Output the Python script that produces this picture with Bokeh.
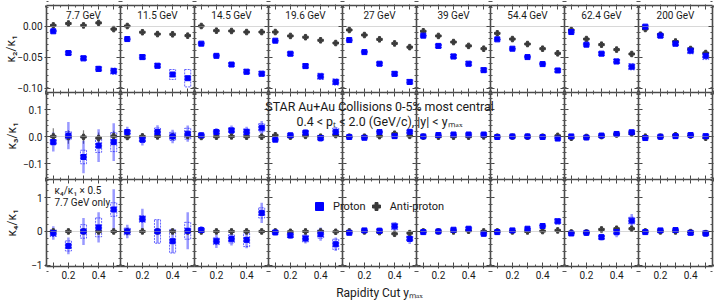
import numpy as np
from bokeh.plotting import figure
from bokeh.models import (Range1d, LinearAxis, FixedTicker, CustomJSTickFormatter,
                          ColumnDataSource, Label, Legend, LegendItem)
from bokeh.embed import file_html
from bokeh.resources import INLINE

# ---------------- data ----------------
ENERGIES = ["7.7 GeV", "11.5 GeV", "14.5 GeV", "19.6 GeV", "27 GeV", "39 GeV", "54.4 GeV", "62.4 GeV", "200 GeV"]
YMAX = [0.1, 0.2, 0.3, 0.4, 0.5]

# kappa2/kappa1
P_K21 = [
    [-0.0085, -0.0435, -0.052, -0.069, -0.0726],
    [-0.021, -0.050, -0.064, -0.078, -0.084],
    [-0.0284, -0.048, -0.062, -0.0736, -0.0768],
    [-0.0236, -0.0446, -0.0645, -0.081, -0.090],
    [-0.0226, -0.042, -0.0607, -0.077, -0.090],
    [-0.0155, -0.032, -0.049, -0.0607, -0.071],
    [-0.0215, -0.0365, -0.050, -0.0613, -0.0715],
    [-0.0097, -0.030, -0.0445, -0.057, -0.0655],
    [-0.001, -0.0155, -0.0284, -0.0397, -0.048],
]
P_K21_STAT = [
    [0.003, 0.004, 0.004, 0.005, 0.005],
    [0.001, 0.002, 0.002, 0.003, 0.003],
    [0.001, 0.002, 0.002, 0.002, 0.003],
    [0.001, 0.002, 0.002, 0.002, 0.003],
    [0.001, 0.001, 0.002, 0.002, 0.002],
    [0.001, 0.001, 0.002, 0.002, 0.002],
    [0.001, 0.001, 0.001, 0.001, 0.002],
    [0.001, 0.001, 0.002, 0.002, 0.003],
    [0.002, 0.002, 0.003, 0.003, 0.004],
]
P_K21_SYS = [
    [0.002, 0.003, 0.004, 0.004, 0.005],
    [0.001, 0.004, 0.004, 0.008, 0.014],
    [0.002, 0.002, 0.003, 0.004, 0.004],
    [0.001, 0.003, 0.004, 0.005, 0.005],
    [0.001, 0.002, 0.003, 0.004, 0.004],
    [0.001, 0.003, 0.004, 0.004, 0.004],
    [0.001, 0.001, 0.002, 0.002, 0.003],
    [0.001, 0.002, 0.003, 0.004, 0.005],
    [0.002, 0.003, 0.004, 0.005, 0.006],
]
A_K21 = [
    [0.001, 0.004, 0.001, 0.005, -0.005],
    [0.000, -0.010, -0.013, -0.0134, -0.0155],
    [0.000, -0.0075, -0.008, -0.0097, -0.0097],
    [-0.0097, -0.016, -0.018, -0.023, -0.0274],
    [-0.0064, -0.0145, -0.0215, -0.028, -0.034],
    [-0.0085, -0.016, -0.0258, -0.032, -0.0365],
    [-0.0118, -0.021, -0.029, -0.0365, -0.044],
    [-0.0064, -0.021, -0.030, -0.038, -0.045],
    [-0.0048, -0.0139, -0.025, -0.037, -0.0435],
]
A_K21_STAT = [
    [0.004, 0.004, 0.004, 0.004, 0.004],
    [0.001, 0.001, 0.001, 0.001, 0.001],
    [0.001, 0.001, 0.001, 0.001, 0.001],
    [0.001, 0.001, 0.001, 0.001, 0.001],
    [0.001, 0.001, 0.001, 0.001, 0.001],
    [0.001, 0.001, 0.001, 0.001, 0.001],
    [0.001, 0.001, 0.001, 0.001, 0.002],
    [0.001, 0.001, 0.001, 0.002, 0.003],
    [0.002, 0.002, 0.003, 0.004, 0.004],
]

# kappa3/kappa1
P_K31 = [
    [-0.020, 0.004, -0.075, -0.033, -0.020],
    [0.017, -0.011, 0.017, 0.001, 0.011],
    [0.005, 0.017, 0.023, 0.017, 0.033],
    [-0.011, 0.005, 0.015, -0.005, 0.017],
    [-0.001, -0.004, 0.017, 0.002, 0.018],
    [0.001, 0.006, 0.008, 0.008, 0.008],
    [-0.001, 0.001, 0.001, -0.001, -0.007],
    [0.001, -0.003, 0.004, 0.010, 0.016],
    [-0.005, 0.000, 0.002, 0.006, 0.002],
]
P_K31_STAT = [
    [0.035, 0.050, 0.060, 0.060, 0.070],
    [0.020, 0.022, 0.025, 0.025, 0.030],
    [0.012, 0.015, 0.018, 0.020, 0.025],
    [0.008, 0.010, 0.012, 0.015, 0.018],
    [0.004, 0.005, 0.006, 0.008, 0.009],
    [0.003, 0.004, 0.005, 0.006, 0.006],
    [0.002, 0.003, 0.003, 0.004, 0.005],
    [0.003, 0.004, 0.006, 0.008, 0.010],
    [0.003, 0.004, 0.005, 0.006, 0.008],
]
P_K31_SYS = [
    [0.010, 0.015, 0.025, 0.025, 0.035],
    [0.008, 0.010, 0.015, 0.015, 0.020],
    [0.005, 0.008, 0.010, 0.012, 0.015],
    [0.004, 0.006, 0.008, 0.010, 0.015],
    [0.002, 0.003, 0.004, 0.005, 0.006],
    [0.002, 0.002, 0.003, 0.004, 0.004],
    [0.001, 0.002, 0.002, 0.003, 0.004],
    [0.002, 0.003, 0.006, 0.005, 0.008],
    [0.002, 0.003, 0.005, 0.006, 0.008],
]
A_K31 = [
    [0.001, -0.001, -0.001, -0.005, 0.002],
    [-0.001, 0.001, 0.001, 0.001, 0.003],
    [-0.001, 0.000, 0.001, 0.000, 0.000],
    [0.005, 0.000, 0.003, 0.000, 0.006],
    [0.000, 0.000, 0.002, 0.011, 0.003],
    [0.000, 0.000, 0.000, 0.000, 0.001],
    [0.000, 0.000, 0.000, 0.000, 0.003],
    [-0.004, -0.001, 0.002, 0.008, 0.012],
    [0.000, 0.000, 0.005, 0.004, -0.004],
]
A_K31_STAT = [
    [0.030, 0.025, 0.025, 0.020, 0.020],
    [0.010, 0.010, 0.010, 0.010, 0.010],
    [0.006, 0.006, 0.006, 0.006, 0.006],
    [0.004, 0.004, 0.004, 0.004, 0.004],
    [0.003, 0.003, 0.003, 0.004, 0.004],
    [0.002, 0.002, 0.002, 0.003, 0.003],
    [0.002, 0.002, 0.002, 0.002, 0.003],
    [0.003, 0.003, 0.004, 0.005, 0.006],
    [0.003, 0.003, 0.004, 0.005, 0.006],
]

# kappa4/kappa1 (7.7 GeV scaled by 0.5)
P_K41 = [
    [-0.05, -0.43, 0.00, 0.12, 0.65],
    [0.00, 0.37, 0.00, -0.29, 0.02],
    [0.04, -0.29, -0.22, -0.25, 0.55],
    [-0.03, -0.12, -0.21, -0.08, -0.38],
    [-0.04, 0.03, 0.02, 0.15, -0.22],
    [-0.02, 0.00, 0.05, 0.08, -0.07],
    [-0.02, 0.03, 0.08, 0.16, 0.30],
    [-0.06, -0.04, -0.17, -0.02, 0.32],
    [-0.02, 0.03, 0.04, -0.04, -0.06],
]
P_K41_STAT = [
    [0.20, 0.25, 0.40, 0.45, 0.60],
    [0.20, 0.30, 0.35, 0.35, 0.55],
    [0.12, 0.20, 0.20, 0.25, 0.30],
    [0.08, 0.10, 0.15, 0.20, 0.20],
    [0.04, 0.06, 0.10, 0.12, 0.15],
    [0.03, 0.04, 0.05, 0.06, 0.08],
    [0.02, 0.03, 0.04, 0.05, 0.06],
    [0.05, 0.08, 0.10, 0.15, 0.20],
    [0.04, 0.05, 0.06, 0.08, 0.10],
]
P_K41_SYS = [
    [0.10, 0.15, 0.20, 0.28, 0.20],
    [0.10, 0.10, 0.35, 0.35, 0.25],
    [0.06, 0.10, 0.12, 0.20, 0.15],
    [0.04, 0.06, 0.10, 0.12, 0.15],
    [0.02, 0.03, 0.05, 0.10, 0.08],
    [0.02, 0.02, 0.03, 0.05, 0.04],
    [0.01, 0.02, 0.02, 0.03, 0.08],
    [0.03, 0.04, 0.06, 0.08, 0.10],
    [0.02, 0.03, 0.04, 0.06, 0.08],
]
A_K41 = [
    [0.00, 0.00, 0.00, 0.00, 0.00],
    [0.00, 0.00, 0.00, 0.00, 0.00],
    [0.00, 0.00, 0.00, 0.00, 0.00],
    [0.00, -0.01, 0.00, 0.00, -0.01],
    [0.00, 0.00, -0.02, -0.07, -0.05],
    [0.00, 0.00, 0.00, 0.02, 0.00],
    [0.00, 0.00, 0.00, 0.01, 0.03],
    [-0.03, -0.03, 0.06, 0.08, 0.08],
    [0.00, 0.00, 0.00, -0.02, -0.05],
]
A_K41_STAT = [
    [0.04, 0.04, 0.04, 0.04, 0.04],
    [0.03, 0.03, 0.03, 0.03, 0.03],
    [0.02, 0.02, 0.02, 0.02, 0.02],
    [0.02, 0.02, 0.02, 0.02, 0.02],
    [0.02, 0.02, 0.02, 0.03, 0.03],
    [0.01, 0.01, 0.01, 0.02, 0.02],
    [0.01, 0.01, 0.01, 0.02, 0.02],
    [0.03, 0.03, 0.04, 0.04, 0.05],
    [0.02, 0.02, 0.03, 0.03, 0.04],
]

ROW_LABELS = ["κ₂/κ₁", "κ₃/κ₁", "κ₄/κ₁"]
X_MAJOR = [0.1, 0.2, 0.3, 0.4, 0.5]
Y_MAJOR = [[-0.1, -0.05, 0.0], [-0.1, 0.0, 0.1], [-1.0, 0.0, 1.0]]

# ---------------- style / layout ----------------
FONT = "Roboto"
BLUE = "#0000ff"
DARK = "#3a3a3a"
FRAME = "#4a4a4a"
TXT = "#1a1a1a"
W, H = 720, 300
X0, Y0 = 46, 5          # top-left corner of the panel grid (px)
PW, PH = 74, 87         # panel size (px)
XLIM = (0.055, 0.545)
XMID = (XLIM[0] + XLIM[1]) / 2
YLIMS = [(-0.107, 0.033), (-0.158, 0.163), (-1.04, 1.54)]
Y_MINOR_STEP = [0.01, 0.02, 0.2]
Y_DIGITS = [2, 1, 0]
ROW_LABEL_STANDOFF = [-4, 1, 9]

rows = [
    (P_K21, P_K21_STAT, P_K21_SYS, A_K21, A_K21_STAT),
    (P_K31, P_K31_STAT, P_K31_SYS, A_K31, A_K31_STAT),
    (P_K41, P_K41_STAT, P_K41_SYS, A_K41, A_K41_STAT),
]

p = figure(width=W, height=H, x_range=Range1d(0, W), y_range=Range1d(0, H),
           output_backend="svg", toolbar_location=None,
           x_axis_location=None, y_axis_location=None, min_border=0,
           min_border_left=0, min_border_right=0, min_border_top=0, min_border_bottom=0,
           outline_line_color=None,
           background_fill_color="white", border_fill_color="white")
p.grid.visible = False

# one scale per panel column / row: maps the panel's data window onto its pixel slot
DX = XLIM[1] - XLIM[0]
sx = DX / PW
xr = {}
for c in range(9):
    start = XLIM[0] - (X0 + c * PW) * sx
    xr[f"x{c}"] = Range1d(start, start + W * sx)
yr = {}
for r in range(3):
    lo, hi = YLIMS[r]
    sy = (hi - lo) / PH
    below = H - (Y0 + (r + 1) * PH)
    start = lo - below * sy
    yr[f"y{r}"] = Range1d(start, start + H * sy)
p.extra_x_ranges = xr
p.extra_y_ranges = yr

x_minor = [round(v, 3) for v in np.arange(0.05, 0.551, 0.05)]
x_ticker = FixedTicker(ticks=X_MAJOR, minor_ticks=x_minor)
x_fmt = CustomJSTickFormatter(code="""
const v = Math.round(tick*10);
return (v == 2 || v == 4) ? tick.toFixed(1) : '';
""")
blank_fmt = CustomJSTickFormatter(code="return '';")
no_ticks = FixedTicker(ticks=[], minor_ticks=[])


def axis(ticker, fmt, tin, tout, show, xname, yname, loc, bounds, label=None, label_standoff=0):
    ax = LinearAxis(ticker=ticker, formatter=fmt if show else blank_fmt,
                    x_range_name=xname, y_range_name=yname,
                    fixed_location=loc, bounds=bounds)
    ax.axis_line_color = FRAME
    ax.axis_line_width = 1.6
    ax.major_tick_in = tin
    ax.major_tick_out = tout
    ax.minor_tick_in = max(tin - 2, 0)
    ax.minor_tick_out = max(tout - 2, 0)
    ax.major_tick_line_color = "#444444"
    ax.minor_tick_line_color = "#555555"
    ax.major_tick_line_width = 1
    ax.minor_tick_line_width = 1
    ax.major_label_text_font = FONT
    ax.major_label_text_font_size = "10px"
    ax.major_label_text_color = TXT
    ax.major_label_standoff = 2
    if label:
        ax.axis_label = label
        ax.axis_label_text_font = FONT
        ax.axis_label_text_font_size = "12px"
        ax.axis_label_text_font_style = "normal"
        ax.axis_label_text_color = TXT
        ax.axis_label_standoff = label_standoff
    return ax


# horizontal frame lines (x axes)
for c in range(9):
    xn = f"x{c}"
    p.add_layout(axis(x_ticker, x_fmt, 4, 1, False, xn, "y0", YLIMS[0][1], XLIM), "above")
    for k in (1, 2):
        p.add_layout(axis(x_ticker, x_fmt, 4, 4, False, xn, f"y{k-1}", YLIMS[k - 1][0], XLIM), "below")
    p.add_layout(axis(x_ticker, x_fmt, 4, 2, True, xn, "y2", YLIMS[2][0], XLIM), "below")

# vertical frame lines (y axes) and dotted zero reference lines
for r in range(3):
    lo, hi = YLIMS[r]
    step = Y_MINOR_STEP[r]
    y_minor = [round(v, 4) for v in np.arange(np.floor(lo / step) * step, hi + step, step)]
    y_ticker = FixedTicker(ticks=Y_MAJOR[r], minor_ticks=y_minor)
    y_fmt = CustomJSTickFormatter(code="return tick.toFixed(%d).replace('-', '\u2212');" % Y_DIGITS[r])
    yn = f"y{r}"
    zero = LinearAxis(ticker=no_ticks, formatter=blank_fmt, x_range_name="x0", y_range_name=yn,
                      fixed_location=0, bounds=(XLIM[0], XLIM[0] + 9 * DX),
                      axis_line_color="#b0b0b0", axis_line_width=1, axis_line_dash="1 1",
                      major_tick_in=0, major_tick_out=0, minor_tick_in=0, minor_tick_out=0)
    p.add_layout(zero, "below")
    p.add_layout(axis(y_ticker, y_fmt, 4, 2, True, "x0", yn, XLIM[0], YLIMS[r],
                      ROW_LABELS[r], ROW_LABEL_STANDOFF[r]), "left")
    for j in range(1, 9):
        p.add_layout(axis(y_ticker, y_fmt, 4, 4, False, f"x{j}", yn, XLIM[0], YLIMS[r]), "left")
    p.add_layout(axis(y_ticker, y_fmt, 4, 1, False, "x8", yn, XLIM[1], YLIMS[r]), "right")

# data
legend_r = {}
for r in range(3):
    P, PS, PSYS, A, AS = rows[r]
    for c in range(9):
        kw = dict(x_range_name=f"x{c}", y_range_name=f"y{r}")
        pv = np.array(P[c]); ps = np.array(PS[c]); psys = np.array(PSYS[c])
        av = np.array(A[c]); asd = np.array(AS[c])
        src = ColumnDataSource(dict(
            x=YMAX, p=pv, p_lo=pv - ps, p_hi=pv + ps, p_sys=2 * psys,
            a=av, a_lo=av - asd, a_hi=av + asd))
        p.segment(x0="x", y0="a_lo", x1="x", y1="a_hi", source=src,
                  line_color="#555555", line_alpha=0.75, line_width=1.2, **kw)
        p.segment(x0="x", y0="p_lo", x1="x", y1="p_hi", source=src,
                  line_color=BLUE, line_alpha=0.4, line_width=2.5, **kw)
        p.rect(x="x", y="p", width=0.04, height="p_sys", source=src,
               fill_color=None, line_color=BLUE, line_alpha=0.6, line_width=1,
               line_dash="2 1", **kw)
        ra = p.scatter(x="x", y="a", source=src, marker="plus", size=5.5,
                       color=DARK, **kw)
        rp = p.scatter(x="x", y="p", source=src, marker="square", size=5,
                       color=BLUE, **kw)
        if r == 0 and c == 0:
            legend_r["p"] = rp
            legend_r["a"] = ra

# texts
for c, e in enumerate(ENERGIES):
    p.add_layout(Label(x=XMID, y=YLIMS[0][1], x_range_name=f"x{c}", y_range_name="y0",
                       y_offset=-10, text=e, text_align="center", text_baseline="middle",
                       text_font=FONT, text_font_size="10px", text_color=TXT))

p.add_layout(Label(x=XMID, y=YLIMS[1][1], x_range_name="x4", y_range_name="y1", y_offset=-13.5,
                   text="STAR Au+Au Collisions 0-5% most central",
                   text_align="center", text_baseline="middle",
                   text_font=FONT, text_font_size="12.4px", text_color=TXT))
p.add_layout(Label(x=XMID, y=YLIMS[1][1], x_range_name="x4", y_range_name="y1", y_offset=-29,
                   text="0.4 < pₜ < 2.0 (GeV/c), |y| < yₘₐₓ",
                   text_align="center", text_baseline="middle",
                   text_font=FONT, text_font_size="12.4px", text_color=TXT))
p.add_layout(Label(x=XLIM[0], y=YLIMS[2][1], x_range_name="x0", y_range_name="y2",
                   x_offset=8, y_offset=-11, text="κ₄/κ₁ × 0.5",
                   text_align="left", text_baseline="middle",
                   text_font=FONT, text_font_size="10px", text_color=TXT))
p.add_layout(Label(x=XLIM[0], y=YLIMS[2][1], x_range_name="x0", y_range_name="y2",
                   x_offset=8, y_offset=-23, text="7.7 GeV only",
                   text_align="left", text_baseline="middle",
                   text_font=FONT, text_font_size="10px", text_color=TXT))
p.add_layout(Label(x=XMID, y=YLIMS[2][0], x_range_name="x4", y_range_name="y2", y_offset=-26,
                   text="Rapidity Cut yₘₐₓ", text_align="center", text_baseline="middle",
                   text_font=FONT, text_font_size="12px", text_color=TXT))

leg = Legend(items=[LegendItem(label="Proton", renderers=[legend_r["p"]]),
                    LegendItem(label="Anti-proton", renderers=[legend_r["a"]])],
             orientation="horizontal", location=(309, 84),
             glyph_width=20, glyph_height=20, label_height=20, label_standoff=4,
             spacing=0, padding=0, margin=0,
             border_line_color=None, background_fill_alpha=0,
             label_text_font=FONT, label_text_font_size="11px",
             label_text_color=TXT)
p.add_layout(leg)

open("out.html", "w").write(file_html(p, INLINE))
